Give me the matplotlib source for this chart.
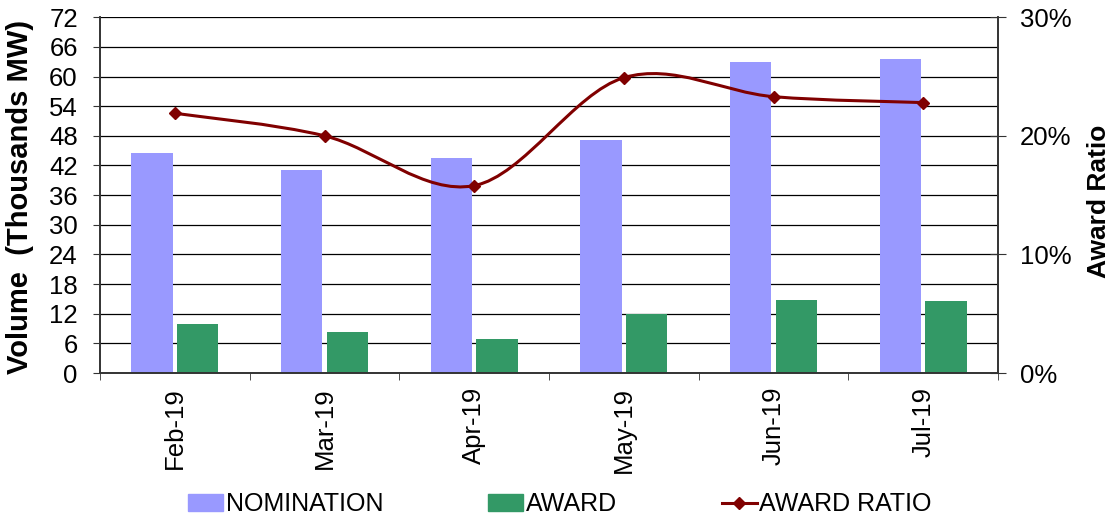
import matplotlib.pyplot as plt
import numpy as np
from matplotlib.path import Path
from matplotlib.patches import PathPatch
from matplotlib.lines import Line2D
from matplotlib.ticker import FuncFormatter

plt.rcParams['font.family'] = ['Liberation Sans', 'DejaVu Sans']

months = ['Feb-19', 'Mar-19', 'Apr-19', 'May-19', 'Jun-19', 'Jul-19']
nomination = [44.5, 41.1, 43.6, 47.1, 62.9, 63.5]
award = [9.9, 8.3, 6.9, 11.9, 14.8, 14.6]
award_ratio = [21.9, 20.0, 15.8, 24.9, 23.3, 22.8]

purple = '#9999FF'
green = '#339966'
red = '#800000'

fig = plt.figure(figsize=(11.1, 5.21), dpi=100)
ax = fig.add_axes([0.0901, 0.284, 0.8090, 0.683])
ax2 = ax.twinx()

x = np.arange(len(months))
w = 0.275
ax.bar(x - 0.153, nomination, w, color=purple, zorder=2)
ax.bar(x + 0.153, award, w, color=green, zorder=2)

ax.set_xlim(-0.5, len(months) - 0.5)
ax.set_ylim(0, 72)
ax.set_yticks(range(0, 73, 6))
ax.yaxis.grid(True, color='black', lw=0.9, zorder=0)
ax.set_axisbelow(True)
ax.set_xticks(x)
ax.set_xticklabels(months, rotation=90, fontsize=18.5)
ax.set_xticks(np.arange(-0.5, len(months)), minor=True)
ax.tick_params(axis='x', which='major', length=0, pad=10)
ax.tick_params(axis='x', which='minor', length=5, direction='out', color='#333333')
ax.tick_params(axis='y', labelsize=18.5, length=5, direction='out', pad=11, color='#333333')
ax.set_ylabel('Volume  (Thousands MW)', fontsize=21, fontweight='bold')
ax.yaxis.set_label_coords(-0.073, 0.494)
ax.spines['top'].set_visible(False)
ax2.spines['top'].set_visible(False)
for a in (ax, ax2):
    for s in ['left', 'right', 'bottom']:
        a.spines[s].set_color('#333333')
        a.spines[s].set_linewidth(1.2)

# smoothed ratio line (Catmull-Rom style bezier like the spreadsheet)
pts = np.column_stack([x, award_ratio]).astype(float)
verts = [tuple(pts[0])]
codes = [Path.MOVETO]
n = len(pts)
for i in range(n - 1):
    p0 = pts[i - 1] if i > 0 else pts[i]
    p1 = pts[i]
    p2 = pts[i + 1]
    p3 = pts[i + 2] if i + 2 < n else pts[i + 1]
    c1 = p1 + (p2 - p0) / 6
    c2 = p2 - (p3 - p1) / 6
    verts += [tuple(c1), tuple(c2), tuple(p2)]
    codes += [Path.CURVE4] * 3
ax2.add_patch(PathPatch(Path(verts, codes), facecolor='none', edgecolor=red, lw=2.2, zorder=3))
ax2.plot(x, award_ratio, linestyle='none', marker='D', color=red, ms=6.5, zorder=4)

ax2.set_ylim(0, 30)
ax2.set_yticks([0, 10, 20, 30])
ax2.yaxis.set_major_formatter(FuncFormatter(lambda v, p: f'{v:.0f}%'))
ax2.tick_params(axis='y', labelsize=18.5, length=11, direction='inout', pad=10, color='#333333')
ax2.set_ylabel('Award Ratio', fontsize=19, fontweight='bold')
ax2.yaxis.set_label_coords(1.099, 0.483)

handles = [
    plt.Rectangle((0, 0), 1, 1, color=purple),
    plt.Rectangle((0, 0), 1, 1, color=green),
    Line2D([], [], color=red, lw=2.2, marker='D', ms=6.5),
]
fig.legend(handles, ['NOMINATION', 'AWARD', 'AWARD RATIO'], loc='center',
           bbox_to_anchor=(0.5045, 0.032), ncol=3, frameon=False,
           prop={'size': 18},
           handlelength=1.4, handletextpad=0.1, columnspacing=4.2)

fig.savefig('out.png', dpi=100)
